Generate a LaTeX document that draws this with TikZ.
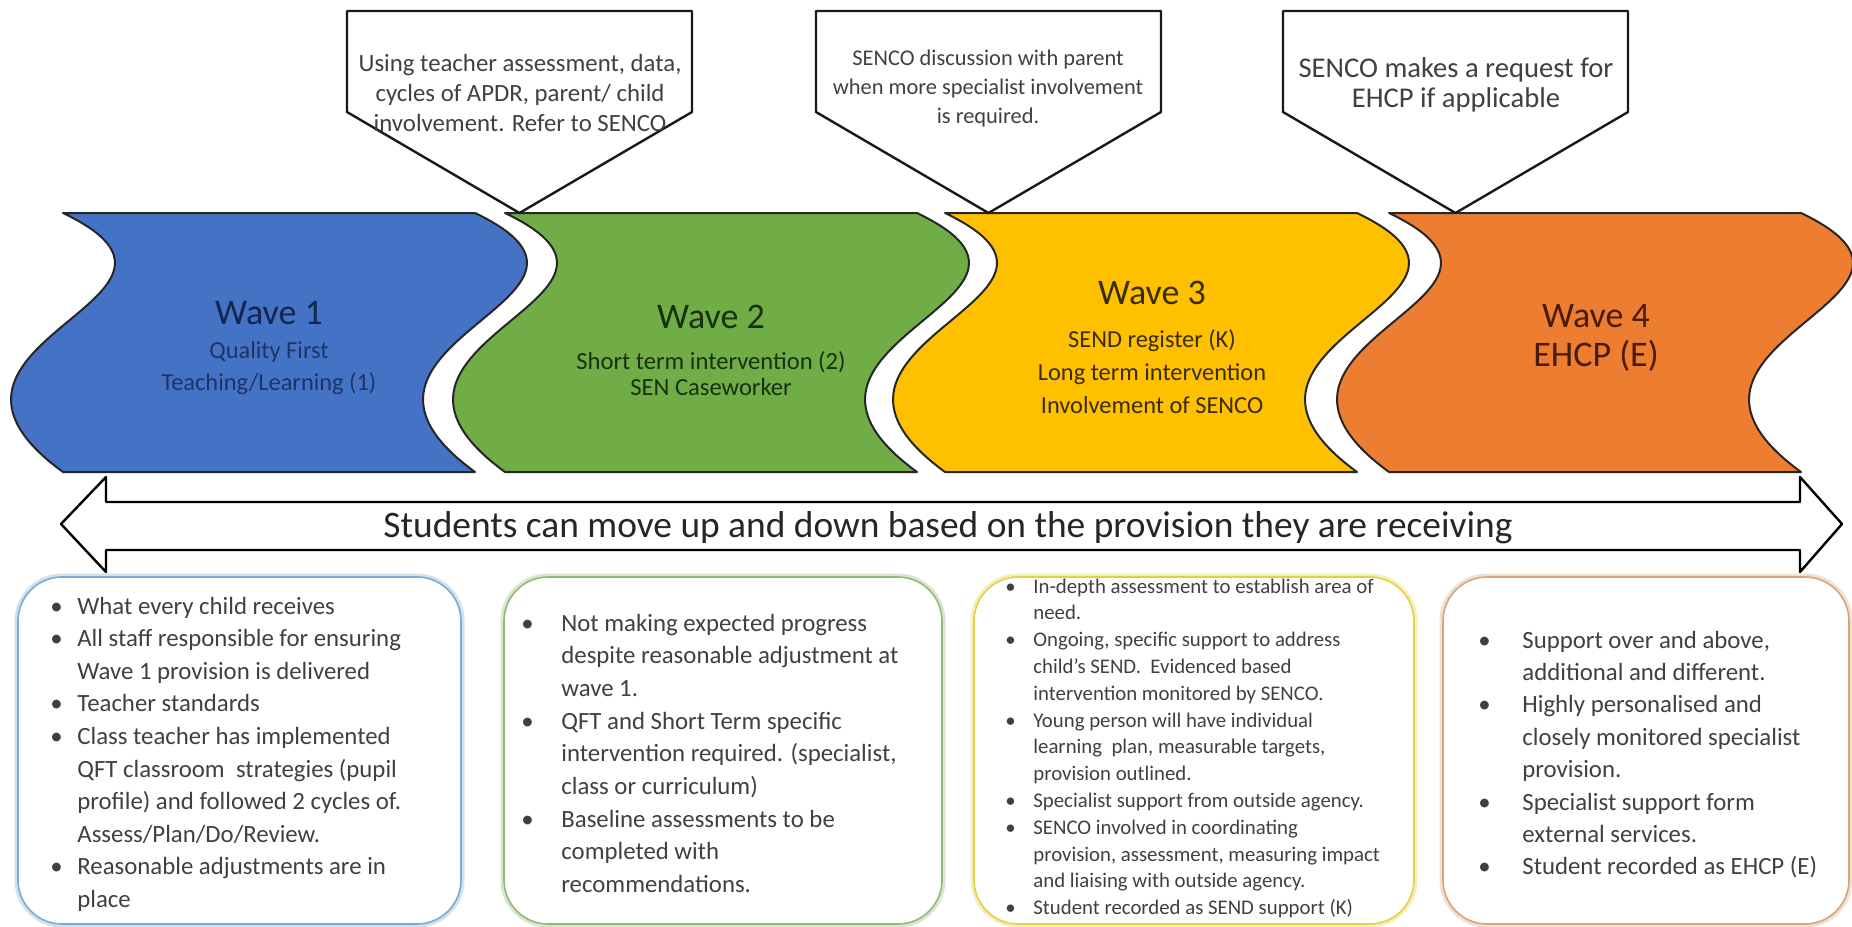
\documentclass[tikz,border=0pt]{standalone}
\usepackage{fontspec}
\setmainfont{Carlito}
\usepackage{xcolor}
\usepackage{tikz}

\definecolor{waveblue}{HTML}{4472C4}
\definecolor{wavegreen}{HTML}{70AD47}
\definecolor{wavegold}{HTML}{FFC000}
\definecolor{waveorange}{HTML}{ED7D31}
\definecolor{blueink}{HTML}{14254F}
\definecolor{greenink}{HTML}{17310F}
\definecolor{goldink}{HTML}{3A2C05}
\definecolor{orangeink}{HTML}{4A1C08}
\definecolor{textgray}{HTML}{404040}
\definecolor{boxblue}{HTML}{7FAAD0}
\definecolor{boxgreen}{HTML}{93B877}
\definecolor{boxgold}{HTML}{E2D045}
\definecolor{boxorange}{HTML}{D7A57A}

\begin{document}
\begin{tikzpicture}[x=0.5pt, y=-0.5pt, line join=round,
    wave/.style={draw=black!85, line width=1pt},
    callout/.style={draw=black!90, fill=white, line width=1.2pt},
    calltext/.style={align=center, text=textgray, inner sep=0pt},
    wavetitle/.style={align=center, font=\fontsize{18}{19.5}\selectfont, inner sep=0pt},
    wavesub/.style={align=center, inner sep=0pt},
    provbox/.style={fill=white, line width=0.8pt, rounded corners=22pt},
    provtext/.style={anchor=base west, inner sep=0pt, text=textgray}]
\useasboundingbox (0,0) rectangle (1852,926);
\fill[white] (0,0) rectangle (1852,926);

\foreach \x/\c in {63/waveblue, 505/wavegreen, 945/wavegold, 1389/waveorange}
  \filldraw[wave, fill=\c] (\x,213) -- (\x+412,213) .. controls (\x+592,299) and (\x+232,341) .. (\x+412,472)
    -- (\x,472) .. controls (\x-180,341) and (\x+180,299) .. (\x,213) -- cycle;

\foreach \l in {347,816,1283}
  \draw[callout] (\l,11) -- ++(345,0) -- ++(0,101) -- ++(-172.5,101) -- ++(-172.5,-101) -- cycle;

\node[calltext, font=\fontsize{12.4}{15}\selectfont] (apdr) at (520,93) {Using teacher assessment, data,\\cycles of APDR, parent/ child\\involvement. Refer to SENCO};
\node[calltext, font=\fontsize{11.2}{14.5}\selectfont] (discuss) at (988,89) {SENCO discussion with parent\\when more specialist involvement\\is required.};
\node[calltext, font=\fontsize{14.3}{15}\selectfont] (request) at (1456,85) {SENCO makes a request for\\EHCP if applicable};

\node[wavetitle, text=blueink] (wone) at (269,313) {Wave 1};
\node[wavesub, text=blueink!80!waveblue, font=\fontsize{12.2}{16}\selectfont] (wonesub) at (269,368) {Quality First\\Teaching/Learning (1)};
\node[wavetitle, text=greenink] (wtwo) at (711,317) {Wave 2};
\node[wavesub, text=greenink, font=\fontsize{12.3}{13}\selectfont] (wtwosub) at (711,374) {Short term intervention (2)\\SEN Caseworker};
\node[wavetitle, text=goldink] (wthree) at (1152,293) {Wave 3};
\node[wavesub, text=goldink, font=\fontsize{12.2}{16.5}\selectfont] (wthreesub) at (1152,372) {SEND register (K)\\Long term intervention\\Involvement of SENCO};
\node[wavetitle, text=orangeink] (wfour) at (1596,338) {Wave 4\\EHCP (E)};

\draw[fill=white, line width=1.2pt] (61,524) -- (106,477) -- (106,502) -- (1800,502) -- (1800,477) -- (1842,524)
  -- (1800,572) -- (1800,550) -- (106,550) -- (106,572) -- cycle;
\node[anchor=base, inner sep=0pt, text=black!85, font=\fontsize{18.7}{22}\selectfont] (move) at (948,537) {Students can move up and down based on the provision they are receiving};

\foreach \a/\b/\c in {18/461/boxblue, 504/942/boxgreen, 974/1414/boxgold, 1443/1849/boxorange} {
  \draw[line width=3.5pt, rounded corners=22pt, draw=\c!35] (\a,577) rectangle (\b,924);
  \draw[provbox, draw=\c] (\a,577) rectangle (\b,924);
}

\node[provtext, font=\fontsize{12.4}{16.3}\selectfont] (wavelist) at (50,614) {\begin{tabular}[t]{@{}p{13.5pt}@{}l@{}}
\textbullet & What every child receives\\
\textbullet & All staff responsible for ensuring\\
 & Wave 1 provision is delivered\\
\textbullet & Teacher standards\\
\textbullet & Class teacher has implemented\\
 & QFT classroom\ \ strategies (pupil\\
 & profile) and followed 2 cycles of.\\
 & Assess/Plan/Do/Review.\\
\textbullet & Reasonable adjustments are in\\
 & place
\end{tabular}};

\node[provtext, font=\fontsize{12.4}{16.35}\selectfont] (shortlist) at (521,631) {\begin{tabular}[t]{@{}p{20pt}@{}l@{}}
\textbullet & Not making expected progress\\
 & despite reasonable adjustment at\\
 & wave 1.\\
\textbullet & QFT and Short Term specific\\
 & intervention required. (specialist,\\
 & class or curriculum)\\
\textbullet & Baseline assessments to be\\
 & completed with\\
 & recommendations.
\end{tabular}};

\node[provtext, font=\fontsize{10.4}{13.4}\selectfont] (sendlist) at (1005,593) {\begin{tabular}[t]{@{}p{14pt}@{}l@{}}
\textbullet & In-depth assessment to establish area of\\
 & need.\\
\textbullet & Ongoing, specific support to address\\
 & child’s SEND.\ \ Evidenced based\\
 & intervention monitored by SENCO.\\
\textbullet & Young person will have individual\\
 & learning\ \ plan, measurable targets,\\
 & provision outlined.\\
\textbullet & Specialist support from outside agency.\\
\textbullet & SENCO involved in coordinating\\
 & provision, assessment, measuring impact\\
 & and liaising with outside agency.\\
\textbullet & Student recorded as SEND support (K)
\end{tabular}};

\node[provtext, font=\fontsize{12.4}{16.2}\selectfont] (ehcplist) at (1478,648) {\begin{tabular}[t]{@{}p{22pt}@{}l@{}}
\textbullet & Support over and above,\\
 & additional and different.\\
\textbullet & Highly personalised and\\
 & closely monitored specialist\\
 & provision.\\
\textbullet & Specialist support form\\
 & external services.\\
\textbullet & Student recorded as EHCP (E)
\end{tabular}};
\end{tikzpicture}
\end{document}
